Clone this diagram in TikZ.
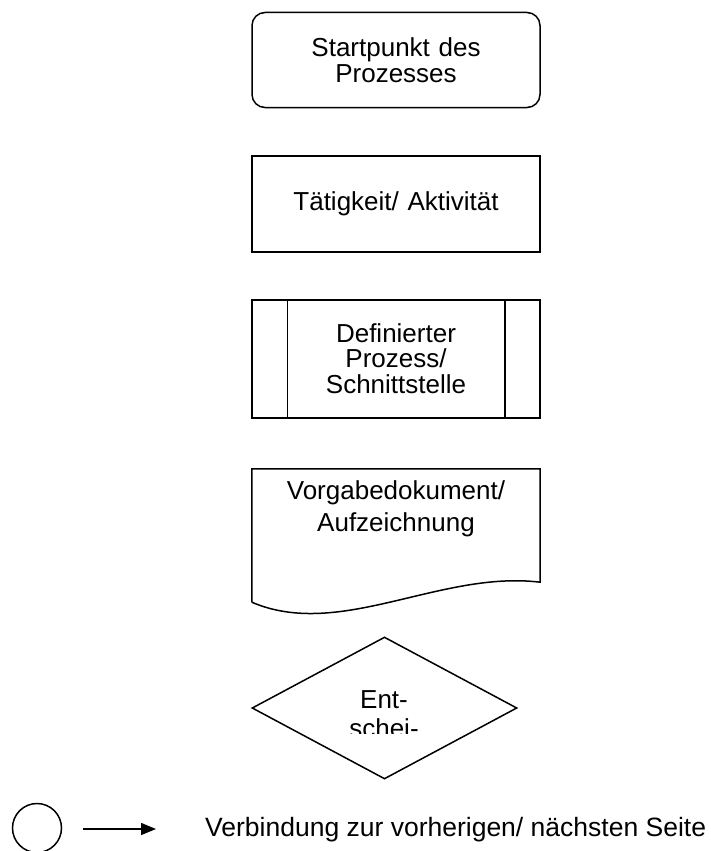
\documentclass[tikz,border=0pt]{standalone}
\usepackage{fontspec}
\setmainfont{Liberation Sans}
\usepackage{tikz}
\usetikzlibrary{arrows.meta, shapes.geometric, positioning, calc}

\begin{document}
\begin{tikzpicture}[
        x=1pt, y=-1pt,
        font=\fontsize{26pt}{26pt}\selectfont,
        shapebox/.style={rectangle, draw, line width=1.5pt, minimum width=288pt,
                         text width=280pt, align=center, inner sep=0pt},
        startbox/.style={shapebox, rounded corners=13pt},
        decision/.style={diamond, draw, line width=1.5pt, minimum width=265pt,
                         minimum height=142pt, inner sep=0pt},
        arrow/.style={line width=1.5pt, -{Triangle[length=15pt, width=12pt]}},
        legend/.style={inner sep=0pt, font=\fontsize{26.5pt}{26.5pt}\selectfont}
      ]
      \useasboundingbox (0,0) rectangle (711,851);

      % Symbols
      \node (start) [startbox, minimum height=95pt] at (396,60) {Startpunkt des\\Prozesses};
      \node (activity) [shapebox, minimum height=96pt] at (396,204) {Tätigkeit/ Aktivität};
      \node (process) [shapebox, minimum height=118pt] at (396,359)
            {\fontsize{26pt}{25pt}\selectfont Definierter\\Prozess/\\Schnittstelle};
      \draw [line width=1.5pt] ([xshift=36pt]process.north west) -- ([xshift=36pt]process.south west);
      \draw [line width=1.5pt] ([xshift=-36pt]process.north east) -- ([xshift=-36pt]process.south east);

      % Document with wavy bottom
      \node (document) [rectangle, minimum width=288pt, minimum height=133pt, inner sep=0pt] at (396,535.5) {};
      \draw [line width=1.5pt] (document.south west) -- (document.north west) -- (document.north east)
            -- ([yshift=20pt]document.south east) .. controls (440,570) and (340,640) .. (document.south west);
      \node (doctext) [align=center, inner sep=0pt, anchor=north,
            font=\fontsize{26pt}{32pt}\selectfont] at (396,480) {Vorgabedokument/\\Aufzeichnung};

      % Decision, text cut off at the bottom
      \node (decide) [decision] at (384.5,708) {};
      \begin{scope}
        \clip (260,640) rectangle (510,733);
        \node (dectop) [inner sep=0pt, anchor=base] at (384,708) {Ent-};
        \node (decbot) [inner sep=0pt, anchor=base] at (384,737) {schei-};
      \end{scope}

      % Connector to other pages
      \node (pagelink) [circle, draw, line width=1.5pt, minimum size=49pt, inner sep=0pt] at (37,828) {};
      \coordinate (arrowstart) at (83,829);
      \coordinate (arrowend) at (156,829);
      \draw [arrow] (arrowstart) -- (arrowend);
      \node (linktext) [legend, anchor=base west] at (205,836) {Verbindung zur vorherigen/ nächsten Seite};

    \end{tikzpicture}
\end{document}
